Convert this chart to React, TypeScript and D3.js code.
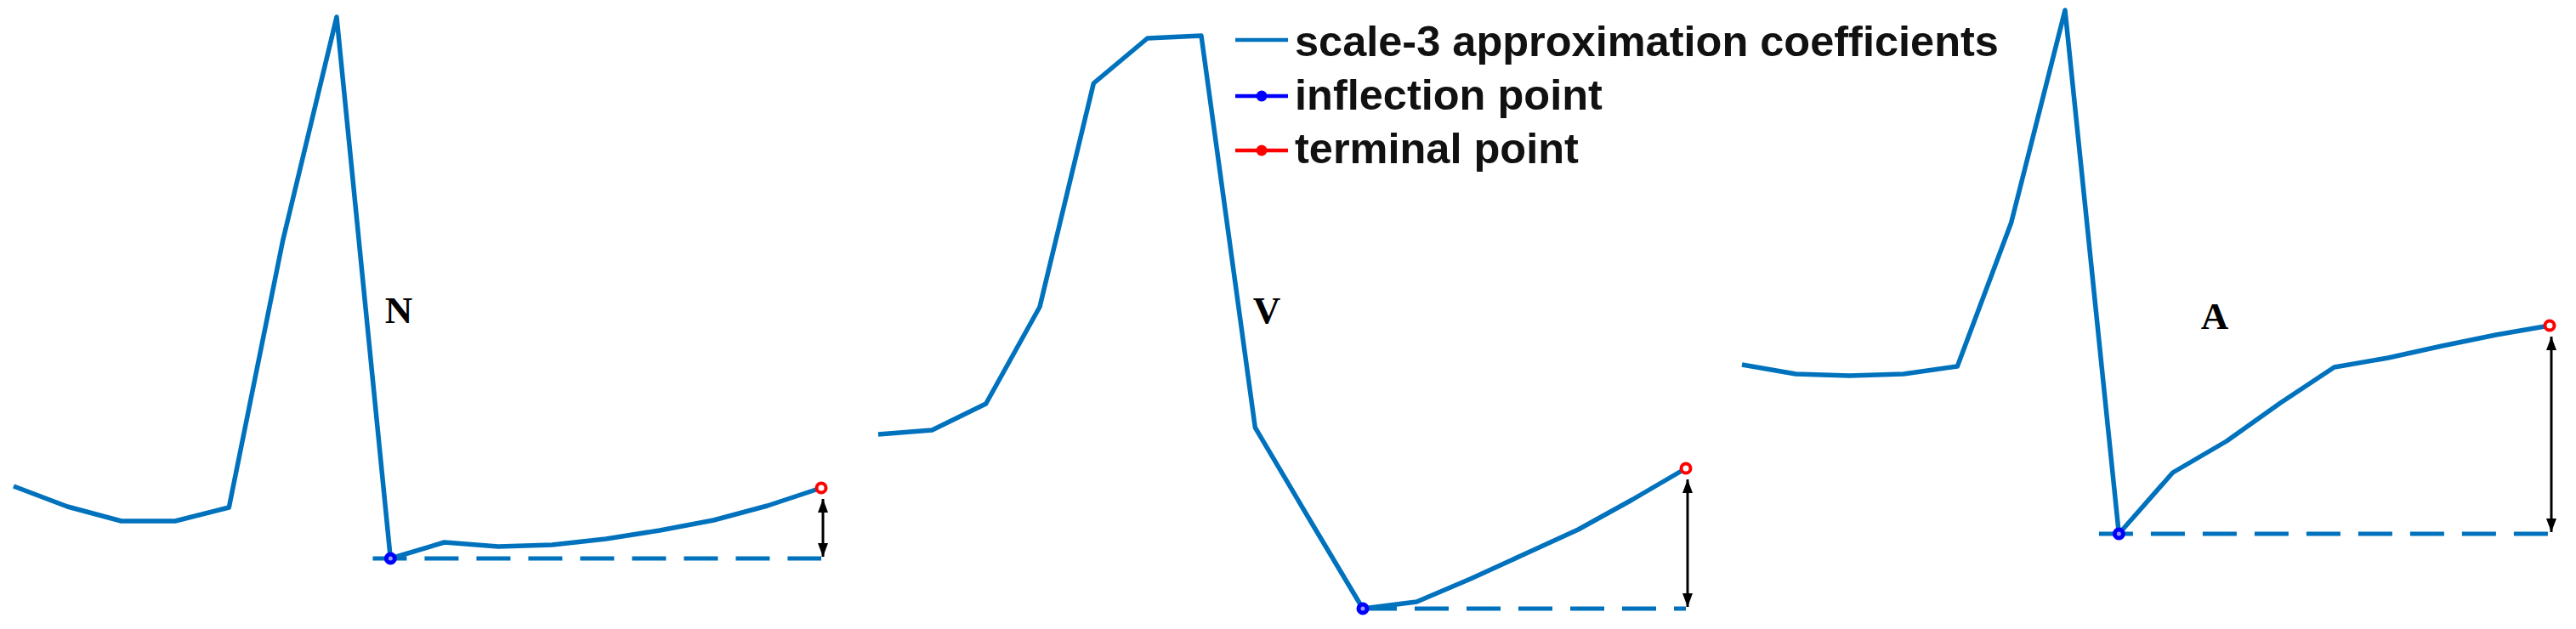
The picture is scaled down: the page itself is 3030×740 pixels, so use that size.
import React from 'react';
import * as d3 from 'd3';

// scale-3 approximation coefficients of one beat per class (16 samples each)
const samples = [1, 2, 3, 4, 5, 6, 7, 8, 9, 10, 11, 12, 13, 14, 15, 16];
const beatN = [0.85, 0.61, 0.44, 0.44, 0.6, 3.74, 6.37, 0, 0.19, 0.14, 0.16, 0.23, 0.33, 0.45, 0.62, 0.83];
const beatV = [2.05, 2.1, 2.41, 3.55, 6.18, 6.71, 6.74, 2.13, 1.06, 0, 0.08, 0.35, 0.64, 0.93, 1.28, 1.65];
const beatA = [1.99, 1.88, 1.86, 1.88, 1.97, 3.66, 6.16, 0, 0.72, 1.09, 1.54, 1.96, 2.07, 2.21, 2.34, 2.45];

const classLabels = ['N', 'V', 'A'];
const inflectionSample = [8, 10, 8];
const terminalSample = [16, 16, 16];
const legendLabels = ['scale-3 approximation coefficients', 'inflection point', 'terminal point'];

const LINE = '#0072BD';
const BLUE = '#0000FF';
const RED = '#FF0000';

const W = 3030;
const H = 740;

// panel boxes (pixels) and annotation placement
const panels = [
  { data: beatN, left: 16, top: 20, bottom: 657, dashFrom: -0.33, label: [469, 380] },
  { data: beatV, left: 1033, top: 42, bottom: 716, dashFrom: 0, label: [1490, 380] },
  { data: beatA, left: 2049, top: 12, bottom: 628, dashFrom: -0.37, label: [2605, 387] },
];
const PANEL_W = 950;

function Panel({ idx }: { idx: number }) {
  const p = panels[idx];
  const x = d3.scaleLinear().domain([1, 16]).range([p.left, p.left + PANEL_W]);
  const y = d3.scaleLinear().domain(d3.extent(p.data) as [number, number]).range([p.bottom, p.top]);
  const line = d3
    .line<number>()
    .x((d, i) => x(samples[i]))
    .y(d => y(d));

  const si = inflectionSample[idx];
  const st = terminalSample[idx];
  const vi = p.data[si - 1];
  const vt = p.data[st - 1];

  return (
    <g>
      <line
        x1={x(si + p.dashFrom)}
        x2={x(st)}
        y1={y(vi)}
        y2={y(vi)}
        stroke={LINE}
        strokeWidth={5}
        strokeDasharray="40 21"
      />
      <path d={line(p.data) || ''} fill="none" stroke={LINE} strokeWidth={5.5} strokeLinejoin="round" />
      <line
        x1={x(st) + 2}
        x2={x(st) + 2}
        y1={y(vt) + 13}
        y2={y(vi) - 2}
        stroke="#000"
        strokeWidth={3}
        markerStart="url(#arrowHead)"
        markerEnd="url(#arrowHead)"
      />
      <circle cx={x(si)} cy={y(vi)} r={5} fill="#9a9aff" stroke={BLUE} strokeWidth={5} />
      <circle cx={x(st)} cy={y(vt)} r={5.5} fill="#fff" stroke={RED} strokeWidth={4} />
      <text
        x={p.label[0]}
        y={p.label[1]}
        textAnchor="middle"
        fontFamily="'Liberation Serif', 'Times New Roman', serif"
        fontWeight="bold"
        fontSize={45}
        fill="#000"
      >
        {classLabels[idx]}
      </text>
    </g>
  );
}

function Legend() {
  const colors = [LINE, BLUE, RED];
  const lineY = [47, 113, 177];
  const baseY = [66, 129, 192];
  return (
    <g>
      {legendLabels.map((t, i) => (
        <g key={t}>
          <line x1={1453} x2={1515} y1={lineY[i]} y2={lineY[i]} stroke={colors[i]} strokeWidth={4.5} />
          {i > 0 && <circle cx={1484} cy={lineY[i]} r={6.5} fill={colors[i]} />}
          <text
            x={1523}
            y={baseY[i]}
            fontFamily="'Liberation Sans', Arial, sans-serif"
            fontWeight="bold"
            fontSize={50.5}
            fill="#111"
          >
            {t}
          </text>
        </g>
      ))}
    </g>
  );
}

export default function App() {
  return (
    <svg width={W} height={H} style={{ position: 'absolute', left: 0, top: 0, background: '#fff' }}>
      <defs>
        <marker
          id="arrowHead"
          viewBox="0 0 16 12"
          refX={16}
          refY={6}
          markerWidth={16}
          markerHeight={12}
          markerUnits="userSpaceOnUse"
          orient="auto-start-reverse"
        >
          <path d="M0,0 L16,6 L0,12 Z" fill="#000" />
        </marker>
      </defs>
      <rect width={W} height={H} fill="#fff" />
      {panels.map((_, i) => (
        <Panel key={i} idx={i} />
      ))}
      <Legend />
    </svg>
  );
}
